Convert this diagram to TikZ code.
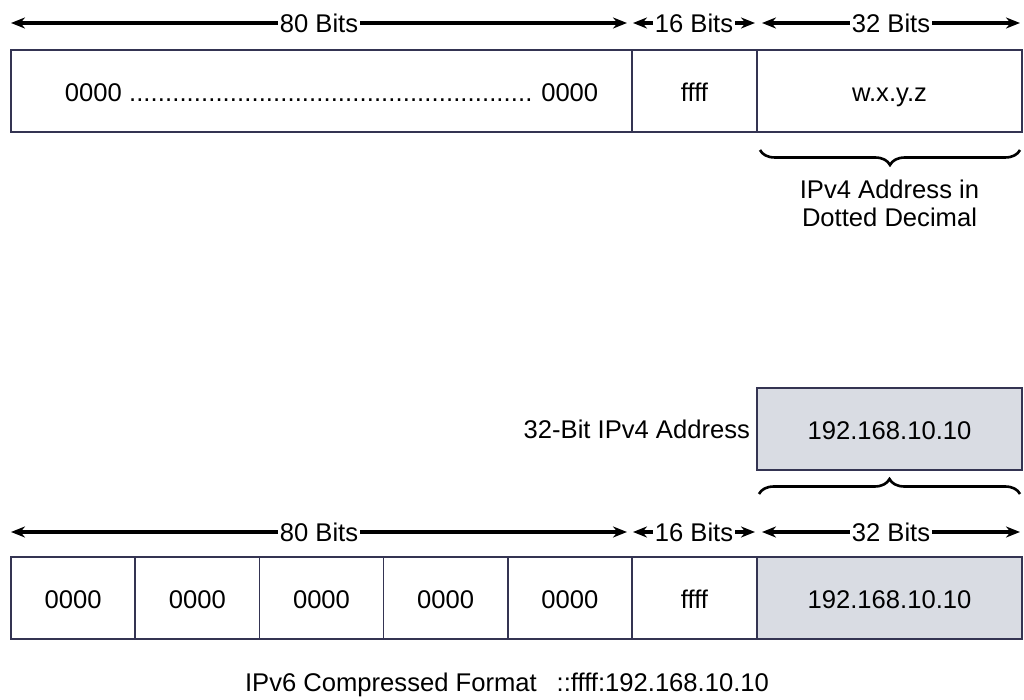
\documentclass[tikz,border=0pt]{standalone}
\usepackage{fontspec}
\setmainfont{Liberation Sans}
\usetikzlibrary{arrows.meta,positioning,decorations.pathreplacing,calc}
\definecolor{boxline}{RGB}{52,52,82}
\definecolor{v4fill}{RGB}{217,220,227}

\begin{document}
\begin{tikzpicture}[x=0.5pt,y=-0.5pt,>={Stealth[length=7pt,width=5.5pt]},
    every node/.style={font=\fontsize{12.8}{14}\selectfont},
    cell/.style={draw=boxline,line width=0.75pt,minimum height=41pt,inner sep=0pt,outer sep=0pt,
      text height=10.6pt,text depth=0pt,anchor=north west},
    span/.style={<->,line width=1.6pt},
    spanlabel/.style={fill=white,inner sep=1pt},
    brace/.style={decorate,decoration={brace,amplitude=7.5pt},line width=1.3pt}]
  \useasboundingbox (0,0) rectangle (1024,700);

  % mapped format
  \node[cell,minimum width=310.5pt] (pad) at (11,50)
    {\hspace*{10pt}0000 \hbox to 204pt{\leaders\hbox to 3.6pt{\hss.\hss}\hfill}\hspace{2pt}0000};
  \node[cell,minimum width=62.5pt,right=0pt of pad] (ff) {ffff};
  \node[cell,minimum width=132.5pt,right=0pt of ff] (v4) {w.x.y.z};

  \coordinate (u0) at (11,23);  \coordinate (u1) at (627,23);
  \coordinate (u2) at (633,23); \coordinate (u3) at (755,23);
  \coordinate (u4) at (762,23); \coordinate (u5) at (1020,23);
  \draw[span] (u0) -- node[spanlabel] {80 Bits} (u1);
  \draw[span] (u2) -- node[spanlabel] {16 Bits} (u3);
  \draw[span] (u4) -- node[spanlabel] {32 Bits} (u5);

  \draw[brace] ($(v4.south east)+(-2,18)$) -- ($(v4.south west)+(3,18)$);
  \node[anchor=north,align=center] (v4note) at ($(v4.south)+(0,41)$)
    {IPv4 Address in\\Dotted Decimal};

  % example address
  \node[cell,fill=v4fill,minimum width=132.5pt] (ip4) at (757,388) {192.168.10.10};
  \node[left=0pt of ip4] (ip4label) {32-Bit IPv4 Address};
  \draw[brace] ($(ip4.south west)+(2,24)$) -- ($(ip4.south east)+(-2,24)$);

  \coordinate (l0) at (11,532);  \coordinate (l1) at (627,532);
  \coordinate (l2) at (633,532); \coordinate (l3) at (755,532);
  \coordinate (l4) at (762,532); \coordinate (l5) at (1020,532);
  \draw[span] (l0) -- node[spanlabel] {80 Bits} (l1);
  \draw[span] (l2) -- node[spanlabel] {16 Bits} (l3);
  \draw[span] (l4) -- node[spanlabel] {32 Bits} (l5);

  \node[cell,minimum width=62.1pt] (g1) at (11,557) {0000};
  \foreach \i/\j in {2/1,3/2,4/3,5/4}
    \node[cell,minimum width=62.1pt,right=0pt of g\j] (g\i) {0000};
  \node[cell,minimum width=62.5pt,right=0pt of g5] (gf) {ffff};
  \node[cell,fill=v4fill,minimum width=132.5pt,right=0pt of gf] (gv4) {192.168.10.10};

  \node (caption) at (507,685) {IPv6 Compressed Format\hspace{10pt}::ffff:192.168.10.10};
\end{tikzpicture}
\end{document}
